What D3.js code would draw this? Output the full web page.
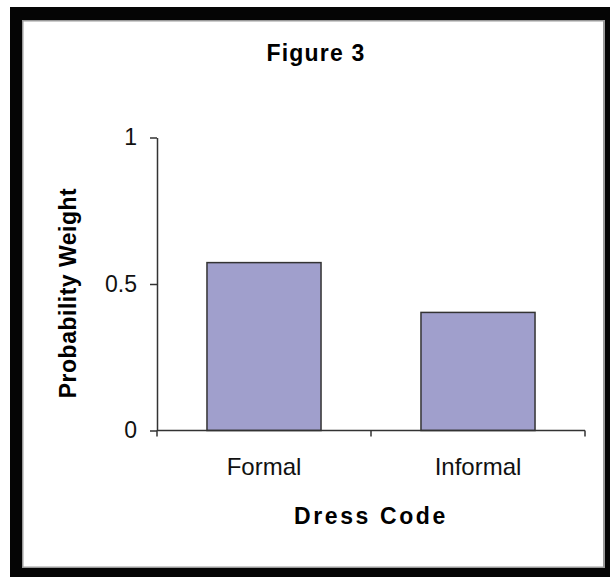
<!DOCTYPE html>
<html>
<head>
<meta charset="utf-8">
<script src="https://cdn.jsdelivr.net/npm/d3@7"></script>
<style>
  body { margin: 0; background: #fff; }
  svg { display: block; font-family: Arial, "Liberation Sans", sans-serif; }
</style>
</head>
<body>
<div id="chart"></div>
<script>
// Data
const categories = ['Formal', 'Informal'];
const weights = [0.573, 0.403];
const yTicks = [0, 0.5, 1];
const tickLabels = ['0', '0.5', '1'];

const width = 610;
const height = 577;
const plot = { left: 157, right: 585, top: 137.5, bottom: 430.5 };

const svg = d3.select('#chart')
    .append('svg')
    .attr('width', width)
    .attr('height', height);

// Black frame around the chart
svg.append('rect')
    .attr('x', 10).attr('y', 7)
    .attr('width', 620).attr('height', 590)
    .attr('fill', '#050505');
svg.append('rect')
    .attr('x', 22).attr('y', 20)
    .attr('width', 583).attr('height', 548)
    .attr('fill', '#999');
svg.append('rect')
    .attr('x', 23.5).attr('y', 21.5)
    .attr('width', 579.5).attr('height', 545)
    .attr('fill', '#fff');

// Scales
const xScale = d3.scaleBand()
    .domain(categories)
    .range([plot.left, plot.right])
    .paddingInner(0.467)
    .paddingOuter(0.2335);

const yScale = d3.scaleLinear()
    .domain([0, 1])
    .range([plot.bottom, plot.top]);

// Bars
svg.selectAll('rect.bar')
    .data(categories)
    .enter()
    .append('rect')
    .attr('class', 'bar')
    .attr('x', d => xScale(d))
    .attr('y', (d, i) => yScale(weights[i]))
    .attr('width', xScale.bandwidth())
    .attr('height', (d, i) => yScale(0) - yScale(weights[i]))
    .attr('fill', '#a09fcc')
    .attr('stroke', '#333')
    .attr('stroke-width', 1.5);

// Y axis
const yAxis = d3.axisLeft(yScale)
    .tickValues(yTicks)
    .tickSize(7)
    .tickSizeOuter(0)
    .tickPadding(13)
    .tickFormat((d, i) => tickLabels[i]);
const gy = svg.append('g')
    .attr('transform', `translate(${plot.left}, 0)`)
    .call(yAxis);
gy.select('.domain').attr('stroke', '#333').attr('stroke-width', 1.5);
gy.selectAll('.tick line').attr('stroke', '#333').attr('stroke-width', 1.5);
gy.selectAll('.tick text')
    .attr('font-size', 23)
    .attr('fill', '#111')
    .attr('font-family', 'Arial, "Liberation Sans", sans-serif');

// X axis: line with ticks on category boundaries
const step = xScale.step();
const boundaries = categories.map(c => xScale(c) - xScale.paddingInner() * step / 2)
    .concat([plot.right]);
const gx = svg.append('g');
gx.append('line')
    .attr('x1', plot.left).attr('x2', plot.right)
    .attr('y1', plot.bottom).attr('y2', plot.bottom)
    .attr('stroke', '#333').attr('stroke-width', 1.5);
gx.selectAll('line.tick')
    .data(boundaries)
    .enter()
    .append('line')
    .attr('class', 'tick')
    .attr('x1', d => d).attr('x2', d => d)
    .attr('y1', plot.bottom).attr('y2', plot.bottom + 6)
    .attr('stroke', '#333').attr('stroke-width', 1.5);
gx.selectAll('text')
    .data(categories)
    .enter()
    .append('text')
    .attr('x', d => xScale(d) + xScale.bandwidth() / 2)
    .attr('y', 475)
    .attr('text-anchor', 'middle')
    .attr('font-size', 24)
    .attr('fill', '#111')
    .text(d => d);

// Titles
svg.append('text')
    .attr('x', 316)
    .attr('y', 61)
    .attr('text-anchor', 'middle')
    .attr('font-size', 23)
    .attr('font-weight', 'bold')
    .attr('letter-spacing', 1.2)
    .attr('fill', '#000')
    .text('Figure 3');

svg.append('text')
    .attr('x', 371)
    .attr('y', 523.5)
    .attr('text-anchor', 'middle')
    .attr('font-size', 23)
    .attr('font-weight', 'bold')
    .attr('letter-spacing', 2.6)
    .attr('fill', '#000')
    .text('Dress Code');

svg.append('text')
    .attr('transform', 'rotate(-90)')
    .attr('x', -293)
    .attr('y', 76)
    .attr('text-anchor', 'middle')
    .attr('font-size', 23)
    .attr('font-weight', 'bold')
    .attr('letter-spacing', 0.5)
    .attr('fill', '#000')
    .text('Probability Weight');
</script>
</body>
</html>
